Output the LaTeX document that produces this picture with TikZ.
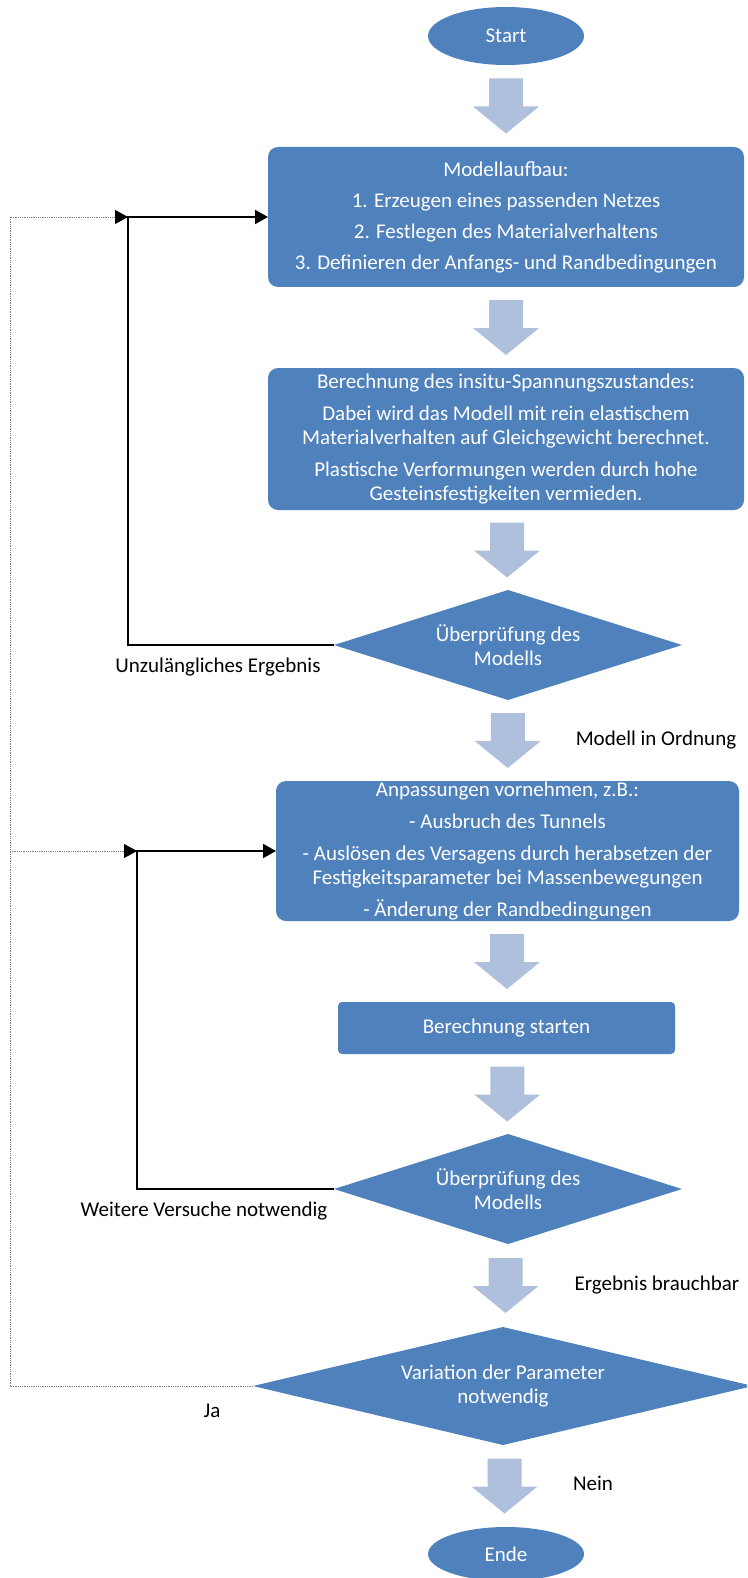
\documentclass[tikz,border=0pt]{standalone}
\usepackage{fontspec}
\setmainfont{Carlito}
\usepackage{tikz}
\usetikzlibrary{shapes.geometric,arrows.meta,calc}
\definecolor{boxblue}{HTML}{4F81BD}
\definecolor{arrowblue}{HTML}{AFC0DC}
\newcommand{\flowarrow}[2]{%
  \path ($(#1.south)!0.5!(#2.north)$) coordinate (mid);
  \fill[arrowblue] (mid) +(-17,-27.5) -- +(17,-27.5) -- +(17,0.5) -- +(33,0.5)
    -- +(0,27.5) -- +(-33,0.5) -- +(-17,0.5) -- cycle;}

\begin{document}
\begin{tikzpicture}[x=1pt, y=-1pt, font=\fontsize{21}{24}\selectfont,
  every node/.style={inner sep=0pt, outer sep=0pt},
  box/.style={rectangle, rounded corners=10pt, fill=boxblue, text=white, align=center},
  term/.style={ellipse, fill=boxblue, text=white, minimum width=156pt},
  test/.style={diamond, fill=boxblue, text=white, align=center, aspect=3.2},
  loopline/.style={line width=2pt, -{Triangle[length=13pt,width=14pt]}},
  dotline/.style={densely dotted, gray, line width=0.8pt, -{Triangle[length=13pt,width=14pt,color=black]}}]
  \useasboundingbox (0,0) rectangle (747,1578);
  \clip (0,0) rectangle (747,1578);

  \node[term, minimum height=58pt] (start) at (506,36) {Start};
  \node[box, minimum width=476pt, minimum height=140pt] (aufbau) at (506,217)
    {Modellaufbau:\\[7pt] 1. Erzeugen eines passenden Netzes\\[7pt] 2. Festlegen des Materialverhaltens\\[7pt] 3. Definieren der Anfangs- und Randbedingungen};
  \node[box, minimum width=476pt, minimum height=142pt] (insitu) at (506,439)
    {Berechnung des insitu-Spannungszustandes:\\[8pt] Dabei wird das Modell mit rein elastischem\\ Materialverhalten auf Gleichgewicht berechnet.\\[8pt] Plastische Verformungen werden durch hohe\\ Gesteinsfestigkeiten vermieden.};
  \node[test, minimum width=348pt, minimum height=110pt] (check1) at (508,645) {Überprüfung des\\ Modells};
  \node[box, minimum width=463pt, minimum height=140pt] (anpassung) at (507.5,851)
    {Anpassungen vornehmen, z.B.:\\[8pt] - Ausbruch des Tunnels\\[8pt] - Auslösen des Versagens durch herabsetzen der\\ Festigkeitsparameter bei Massenbewegungen\\[8pt] - Änderung der Randbedingungen};
  \node[box, rounded corners=4pt, minimum width=337pt, minimum height=52pt] (rechnen) at (506.5,1028) {Berechnung starten};
  \node[test, minimum width=348pt, minimum height=110pt] (check2) at (508,1189) {Überprüfung des\\ Modells};
  \node[test, aspect=4.2, minimum width=500pt, minimum height=118pt] (variation) at (503,1386) {Variation der Parameter\\ notwendig};
  \node[term, minimum height=54pt] (ende) at (506,1554) {Ende};

  \flowarrow{start}{aufbau}
  \flowarrow{aufbau}{insitu}
  \flowarrow{insitu}{check1}
  \flowarrow{check1}{anpassung}
  \flowarrow{anpassung}{rechnen}
  \flowarrow{rechnen}{check2}
  \flowarrow{check2}{variation}
  \flowarrow{variation}{ende}

  \path (aufbau.west) ++(-140,0) coordinate (j1);
  \path (anpassung.west) ++(-139,0) coordinate (j2);
  \coordinate (rand) at (10,1386);
  \draw[loopline] (check1.west) -| (j1) -- (aufbau.west);
  \draw[loopline] (check2.west) -| (j2) -- (anpassung.west);
  \draw[dotline] (variation.west) -- (rand) |- (j1);
  \draw[dotline] (rand |- j2) -- (j2);

  \node (l1) at (218,667) {Unzulängliches Ergebnis};
  \node (l2) at (656,740) {Modell in Ordnung};
  \node (l3) at (204,1211) {Weitere Versuche notwendig};
  \node (l4) at (657,1285) {Ergebnis brauchbar};
  \node (l5) at (212,1411) {Ja};
  \node (l6) at (593,1483) {Nein};
\end{tikzpicture}
\end{document}
